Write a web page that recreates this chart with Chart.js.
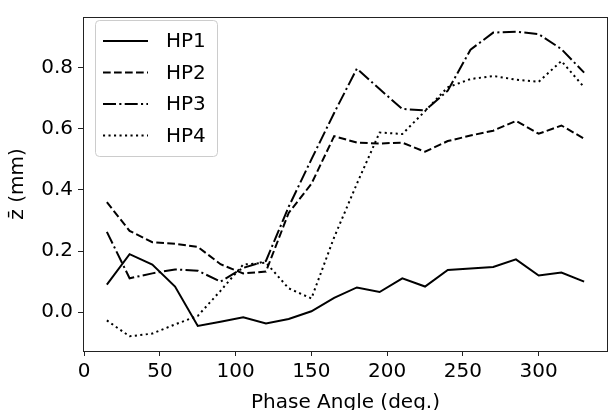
<!DOCTYPE html>
<html lang="en">
  <head>
    <meta charset="UTF-8" />
    <title>Phase angle</title>
    <script src="https://cdn.jsdelivr.net/npm/chart.js"></script>
    <style>
      body {
        margin: 0;
        background: white;
      }
    </style>
  </head>
  <body>
    <canvas id="chart" width="609" height="410"></canvas>
    <script>
      const angles = [15, 30, 45, 60, 75, 90, 105, 120, 135, 150, 165, 180, 195, 210, 225, 240, 255, 270, 285, 300, 315, 330];
      const hp1 = [0.09, 0.19, 0.156, 0.084, -0.045, -0.031, -0.017, -0.037, -0.022, 0.003, 0.047, 0.081, 0.066, 0.111, 0.084, 0.138, 0.143, 0.148, 0.173, 0.12, 0.13, 0.1];
      const hp2 = [0.36, 0.266, 0.229, 0.224, 0.214, 0.157, 0.127, 0.133, 0.325, 0.42, 0.576, 0.555, 0.552, 0.555, 0.525, 0.56, 0.578, 0.594, 0.626, 0.584, 0.611, 0.568];
      const hp3 = [0.263, 0.111, 0.127, 0.14, 0.136, 0.1, 0.145, 0.168, 0.345, 0.5, 0.652, 0.797, 0.73, 0.665, 0.66, 0.725, 0.859, 0.915, 0.918, 0.91, 0.861, 0.784];
      const hp4 = [-0.027, -0.079, -0.07, -0.04, -0.012, 0.07, 0.156, 0.162, 0.078, 0.045, 0.245, 0.42, 0.588, 0.583, 0.658, 0.736, 0.763, 0.773, 0.761, 0.754, 0.822, 0.736];
      const seriesNames = ["HP1", "HP2", "HP3", "HP4"];
      const xTicks = [0, 50, 100, 150, 200, 250, 300];
      const yTicks = [0, 0.2, 0.4, 0.6, 0.8];

      const dashes = [[], [7.7, 3.3], [13, 3.3, 2.1, 3.3], [2.1, 3.4]];
      const font = { family: "DejaVu Sans", size: 20 };

      function toPoints(values) {
        return values.map((v, i) => ({ x: angles[i], y: v }));
      }

      const allSeries = [hp1, hp2, hp3, hp4];
      const datasets = allSeries.map((values, i) => ({
        label: seriesNames[i],
        data: toPoints(values),
        borderColor: "black",
        borderWidth: 2,
        borderDash: dashes[i],
        pointRadius: 0,
        tension: 0,
        fill: false,
      }));

      // frame, y title and matplotlib-like legend
      const extras = {
        id: "extras",
        afterDraw(chart) {
          const ctx = chart.ctx;
          const a = chart.chartArea;
          ctx.save();
          ctx.strokeStyle = "#222";
          ctx.lineWidth = 1;
          ctx.strokeRect(a.left + 0.5, a.top + 0.5, a.right - a.left - 1, a.bottom - a.top);

          ctx.fillStyle = "black";
          ctx.font = "20px 'DejaVu Sans'";
          ctx.translate(18, (a.top + a.bottom) / 2);
          ctx.rotate(-Math.PI / 2);
          ctx.textAlign = "center";
          ctx.textBaseline = "middle";
          ctx.fillText("z\u0304 (mm)", 0, 0);
          ctx.restore();

          ctx.save();
          ctx.beginPath();
          ctx.roundRect(95.5, 20.5, 122, 136, 4);
          ctx.fillStyle = "rgba(255,255,255,0.8)";
          ctx.fill();
          ctx.strokeStyle = "#cccccc";
          ctx.lineWidth = 1;
          ctx.stroke();
          ctx.font = "20px 'DejaVu Sans'";
          ctx.textBaseline = "middle";
          ctx.fillStyle = "black";
          seriesNames.forEach((name, i) => {
            const y = 41 + i * 31.5;
            ctx.beginPath();
            ctx.setLineDash(dashes[i]);
            ctx.lineWidth = 2;
            ctx.strokeStyle = "black";
            ctx.moveTo(103, y);
            ctx.lineTo(148, y);
            ctx.stroke();
            ctx.setLineDash([]);
            ctx.fillText(name, 166, y + 1);
          });
          ctx.restore();
        },
      };

      new Chart(document.getElementById("chart"), {
        type: "line",
        data: { datasets: datasets },
        plugins: [extras],
        options: {
          responsive: false,
          animation: false,
          layout: { padding: { top: 10, right: 1, left: 0, bottom: 0 } },
          plugins: { legend: { display: false }, tooltip: { enabled: false } },
          scales: {
            x: {
              type: "linear",
              min: -0.75,
              max: 345.75,
              afterBuildTicks: (s) => {
                s.ticks = xTicks.map((v) => ({ value: v }));
              },
              afterFit: (s) => {
                s.height = 59;
              },
              grid: { drawOnChartArea: false, tickLength: 5, color: "#222", tickWidth: 1 },
              border: { display: false },
              ticks: { color: "black", font: font, padding: 4, maxRotation: 0, callback: (v) => String(v) },
              title: {
                display: true,
                text: "Phase Angle (deg.)",
                color: "black",
                font: font,
                padding: { top: 0, bottom: -5 },
              },
            },
            y: {
              type: "linear",
              min: -0.127,
              max: 0.966,
              afterBuildTicks: (s) => {
                s.ticks = yTicks.map((v) => ({ value: v }));
              },
              afterFit: (s) => {
                s.width = 83;
              },
              grid: { drawOnChartArea: false, tickLength: 5, color: "#222", tickWidth: 1 },
              border: { display: false },
              ticks: { color: "black", font: font, padding: 5, callback: (v) => v.toFixed(1) },
            },
          },
        },
      });
    </script>
  </body>
</html>
